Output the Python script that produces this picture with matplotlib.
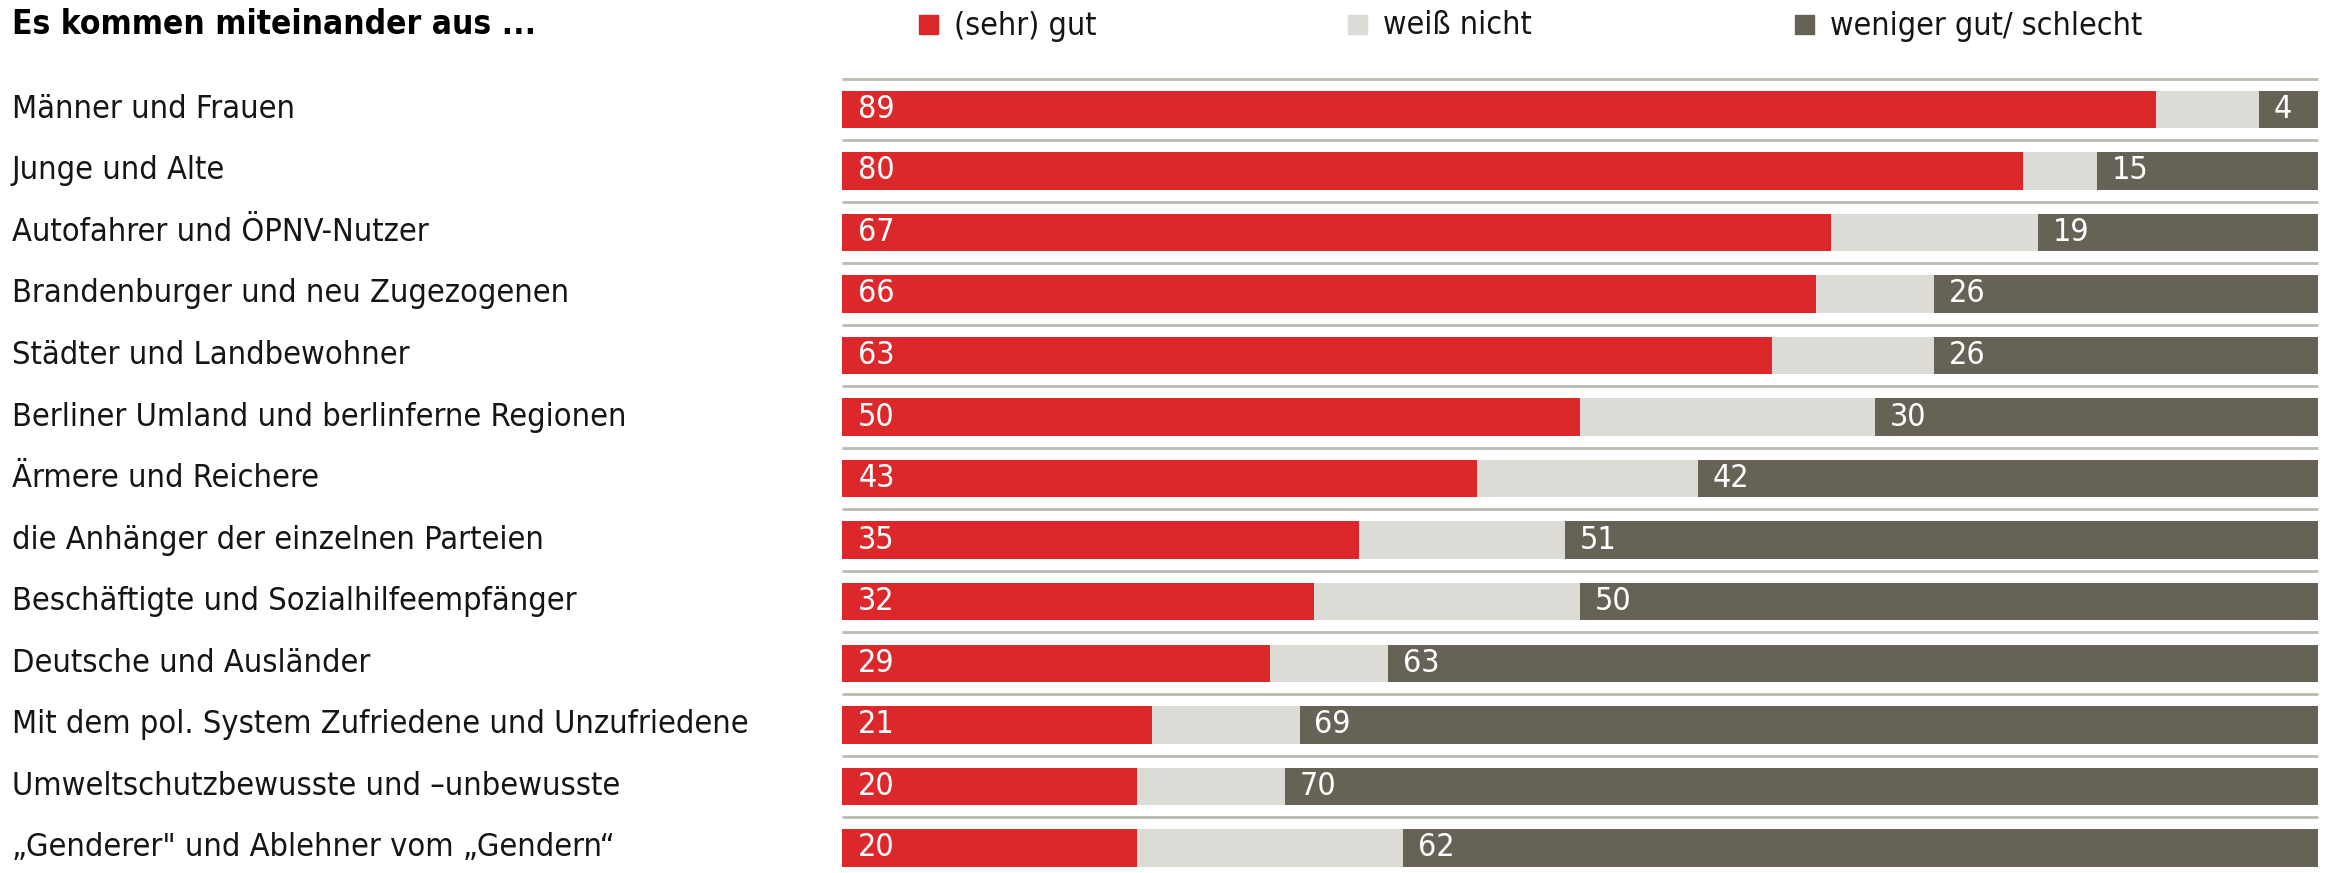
import matplotlib.pyplot as plt
import matplotlib.transforms as mtransforms
from matplotlib.patches import Rectangle

# Data
categories = [
    "Männer und Frauen",
    "Junge und Alte",
    "Autofahrer und ÖPNV-Nutzer",
    "Brandenburger und neu Zugezogenen",
    "Städter und Landbewohner",
    "Berliner Umland und berlinferne Regionen",
    "Ärmere und Reichere",
    "die Anhänger der einzelnen Parteien",
    "Beschäftigte und Sozialhilfeempfänger",
    "Deutsche und Ausländer",
    "Mit dem pol. System Zufriedene und Unzufriedene",
    "Umweltschutzbewusste und \u2013unbewusste",
    "\u201eGenderer\" und Ablehner vom \u201eGendern\u201c",
]
gut = [89, 80, 67, 66, 63, 50, 43, 35, 32, 29, 21, 20, 20]
weiss_nicht = [7, 5, 14, 8, 11, 20, 15, 14, 18, 8, 10, 10, 18]
schlecht = [4, 15, 19, 26, 26, 30, 42, 51, 50, 63, 69, 70, 62]
series_names = ["(sehr) gut", "weiß nicht", "weniger gut/ schlecht"]

TITLE = "Es kommen miteinander aus ..."

RED = "#dc282a"
LIGHT = "#dcdbd6"
DARK = "#666356"
LINE = "#bdbab3"

plt.rcParams['font.family'] = ["DejaVu Sans"]
plt.rcParams['font.stretch'] = 'condensed'

W, H = 2331, 873
fig = plt.figure(figsize=(W / 100, H / 100), dpi=100)

# bar area: x 842..2318 px, row centres at 109.3 + i*61.55 px
ax = fig.add_axes([842 / W, 0, 1476 / W, 1])
pitch = 61.55
top_i = -109.3 / pitch
bot_i = (H - 109.3) / pitch
ax.set_ylim(bot_i, top_i)
ax.set_xlim(0, 100)
ax.axis('off')

rows = list(range(len(categories)))
bar_h = 37.5 / pitch

ax.barh(rows, gut, height=bar_h, color=RED)
ax.barh(rows, weiss_nicht, left=gut, height=bar_h, color=LIGHT)
left3 = [g + w for g, w in zip(gut, weiss_nicht)]
ax.barh(rows, schlecht, left=left3, height=bar_h, color=DARK)

for i in rows:
    ax.plot([0, 100], [i - 0.5, i - 0.5], color=LINE, lw=2, solid_capstyle='butt',
            clip_on=False)
    ax.text(1.1, i, str(gut[i]), color="white", fontsize=23, va='center', ha='left')
    ax.text(left3[i] + 1.0, i, str(schlecht[i]), color="white", fontsize=23,
            va='center', ha='left')

# category labels on the left
trans = mtransforms.blended_transform_factory(fig.transFigure, ax.transData)
for i, cat in enumerate(categories):
    ax.text(12 / W, i, cat, transform=trans, fontsize=23.3, va='center', ha='left',
            color="#151515")

# title
fig.text(12 / W, 1 - 24 / H, TITLE, fontsize=24, fontweight='bold', va='center',
         ha='left', color="black")

# legend
legend_x = [919, 1348, 1795]
legend_colors = [RED, LIGHT, DARK]
for x, c, name in zip(legend_x, legend_colors, series_names):
    fig.patches.append(Rectangle((x / W, 1 - 34 / H), 19 / W, 19 / H,
                                 transform=fig.transFigure, color=c))
    fig.text((x + 35) / W, 1 - 26 / H, name, fontsize=23, va='center', ha='left',
             color="#151515")

fig.savefig("out.png", dpi=100)
